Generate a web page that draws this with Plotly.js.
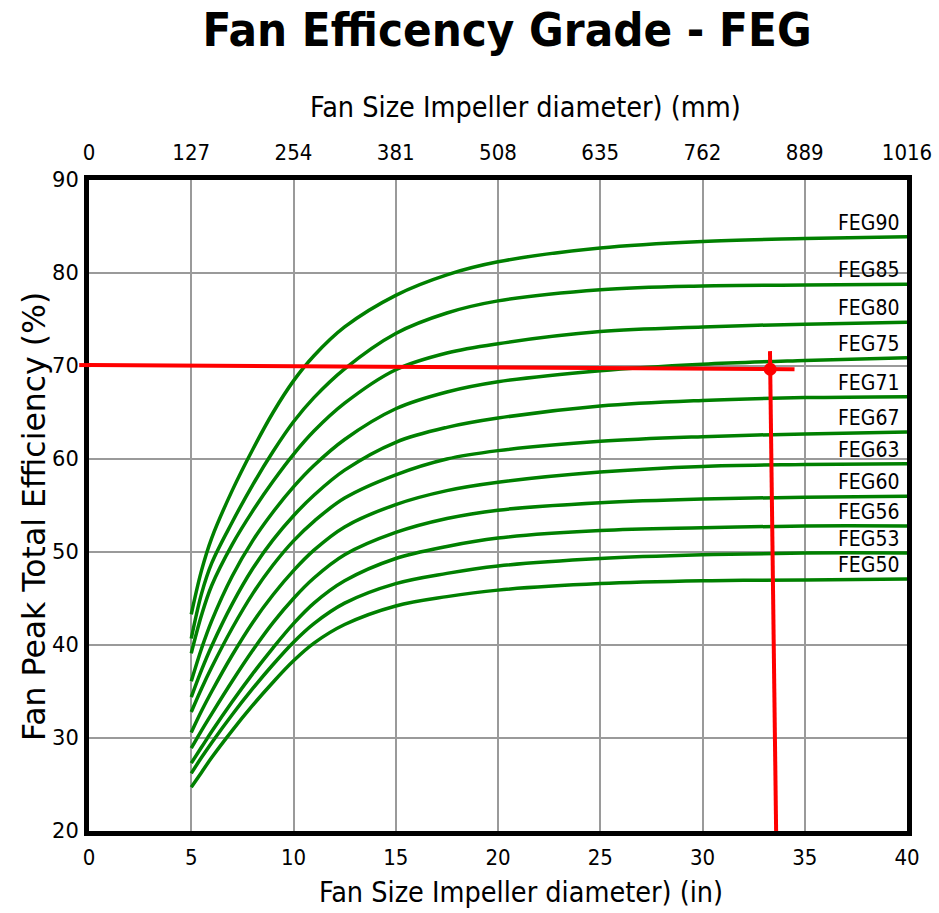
<!DOCTYPE html>
<html><head><meta charset="utf-8">
<script src="https://cdn.plot.ly/plotly-3.0.1.min.js"></script>
<style>html,body{margin:0;padding:0;background:#fff}</style>
</head><body>
<div id="chart" style="width:939px;height:913px"></div>
<script>
// ---- data ----
const diameterIn = [5, 5.5, 6, 7, 8, 9, 10, 11, 12.5, 15, 17.5, 20, 25, 30, 35, 40];
const gradeNames = ['FEG90','FEG85','FEG80','FEG75','FEG71','FEG67','FEG63','FEG60','FEG56','FEG53','FEG50'];
const feg90 = [43.3, 48.0, 51.5, 56.6, 61.0, 65.0, 68.4, 71.1, 74.2, 77.6, 79.8, 81.2, 82.7, 83.4, 83.7, 83.9];
const feg85 = [40.7, 45.5, 48.8, 53.2, 57.2, 60.8, 64.0, 66.6, 69.7, 73.5, 75.7, 77.0, 78.2, 78.6, 78.7, 78.8];
const feg80 = [39.1, 43.2, 46.4, 50.8, 54.4, 57.6, 60.5, 63.0, 66.0, 69.6, 71.4, 72.4, 73.7, 74.2, 74.5, 74.7];
const feg75 = [36.1, 39.6, 42.6, 47.4, 51.2, 54.3, 57.0, 59.3, 62.1, 65.4, 67.2, 68.3, 69.5, 70.2, 70.6, 70.9];
const feg71 = [34.4, 37.3, 39.9, 44.4, 48.2, 51.3, 53.9, 56.1, 58.8, 61.8, 63.4, 64.4, 65.7, 66.3, 66.6, 66.7];
const feg67 = [32.8, 35.3, 37.6, 41.8, 45.5, 48.6, 51.2, 53.3, 55.8, 58.3, 60.0, 60.9, 61.9, 62.4, 62.7, 62.9];
const feg63 = [30.6, 32.9, 35.0, 38.9, 42.4, 45.4, 48.0, 50.2, 52.7, 55.1, 56.6, 57.5, 58.6, 59.2, 59.4, 59.5];
const feg60 = [28.9, 30.8, 32.6, 36.1, 39.4, 42.4, 45.0, 47.2, 49.7, 52.1, 53.6, 54.5, 55.3, 55.7, 55.9, 56.0];
const feg56 = [27.3, 29.0, 30.7, 33.9, 36.9, 39.7, 42.3, 44.5, 46.9, 49.3, 50.6, 51.5, 52.3, 52.6, 52.8, 52.8];
const feg53 = [26.2, 27.9, 29.5, 32.5, 35.3, 37.9, 40.3, 42.3, 44.5, 46.6, 47.7, 48.5, 49.3, 49.7, 49.9, 49.9];
const feg50 = [24.7, 26.3, 27.9, 30.8, 33.5, 36.0, 38.3, 40.2, 42.2, 44.2, 45.2, 45.9, 46.6, 46.9, 47.0, 47.1];

const inchTicks = [0, 5, 10, 15, 20, 25, 30, 35, 40];
const mmTickText = ['0', '127', '254', '381', '508', '635', '762', '889', '1016'];
const effTicks = [20, 30, 40, 50, 60, 70, 80, 90];

// example reading (red guide lines)
const guideHX = [0, 34.5];
const guideHY = [70.1, 69.65];
const guideVX = [33.3, 33.6];
const guideVY = [71.6, 20];
const pointX = [33.31];
const pointY = [69.65];

// ---- build ----
const seriesList = [feg90, feg85, feg80, feg75, feg71, feg67, feg63, feg60, feg56, feg53, feg50];
const GREEN = '#008000', RED = '#ff0000';
const traces = seriesList.map((ys, i) => ({
  type: 'scatter', mode: 'lines', name: gradeNames[i],
  x: diameterIn, y: ys,
  line: {color: GREEN, width: 3.5, shape: 'spline', smoothing: 1},
  hoverinfo: 'skip'
}));
traces.push({type: 'scatter', mode: 'lines', x: guideHX, y: guideHY,
  line: {color: RED, width: 4}, hoverinfo: 'skip'});
traces.push({type: 'scatter', mode: 'lines', x: guideVX, y: guideVY,
  line: {color: RED, width: 4}, hoverinfo: 'skip'});
traces.push({type: 'scatter', mode: 'markers', x: pointX, y: pointY, xaxis: 'x2',
  marker: {color: RED, size: 13}, hoverinfo: 'skip'});

const COND = 'DejaVu Sans Condensed';
const annotations = seriesList.map((ys, i) => ({
  x: diameterIn[diameterIn.length - 1], y: ys[ys.length - 1],
  xref: 'x', yref: 'y', text: gradeNames[i], showarrow: false,
  xanchor: 'right', yanchor: 'bottom', xshift: -6, yshift: 0,
  font: {family: COND, size: 21, color: '#000'}
}));
annotations.push({
  text: 'Fan Size Impeller diameter) (in)', showarrow: false,
  xref: 'paper', yref: 'paper', x: 0.528, y: -0.094, xanchor: 'center', yanchor: 'middle',
  font: {family: COND, size: 28.5, color: '#000'}
});
annotations.push({
  text: 'Fan Size Impeller diameter) (mm)', showarrow: false,
  xref: 'paper', yref: 'paper', x: 0.534, y: 1.112, xanchor: 'center', yanchor: 'middle',
  font: {family: COND, size: 28.5, color: '#000'}
});
annotations.push({
  text: 'Fan Peak Total Efficiency (%)', showarrow: false, textangle: -90,
  xref: 'paper', yref: 'paper', x: -0.068, y: 0.483, xanchor: 'center', yanchor: 'middle',
  font: {family: 'DejaVu Sans', size: 31.5, color: '#000'}
});

const gridC = '#9a9a9a';
const layout = {
  width: 939, height: 913,
  margin: {l: 88.5, r: 31.5, t: 180, b: 81.5, autoexpand: false},
  paper_bgcolor: '#fff', plot_bgcolor: '#fff',
  showlegend: false,
  title: {
    text: '<b>Fan Efficency Grade - FEG</b>',
    font: {family: COND, size: 47, color: '#000'},
    x: 507 / 939, xref: 'container', xanchor: 'center',
    y: 1 - 30 / 913, yref: 'container', yanchor: 'middle'
  },
  xaxis: {
    range: [0, 40], tickvals: inchTicks, ticks: '',
    showgrid: true, gridcolor: gridC, gridwidth: 2, zeroline: false,
    showline: true, linecolor: '#000', linewidth: 5, mirror: true,
    tickfont: {family: COND, size: 22, color: '#000'},
    ticklabelstandoff: 3,
    automargin: false, fixedrange: true
  },
  xaxis2: {
    overlaying: 'x', side: 'top', range: [0, 40],
    tickvals: inchTicks, ticktext: mmTickText, ticks: '',
    showgrid: false, zeroline: false, showline: false,
    tickfont: {family: COND, size: 22, color: '#000'},
    ticklabelstandoff: 15,
    automargin: false, fixedrange: true
  },
  yaxis: {
    range: [20, 90], tickvals: effTicks, ticks: '',
    showgrid: true, gridcolor: gridC, gridwidth: 2, zeroline: false,
    showline: true, linecolor: '#000', linewidth: 5, mirror: true,
    tickfont: {family: 'DejaVu Sans', size: 21, color: '#000'},
    ticklabelstandoff: 1,
    automargin: false, fixedrange: true
  },
  shapes: [{
    type: 'line', xref: 'x domain', yref: 'y',
    x0: -0.012, x1: 0.002, y0: guideHY[0], y1: guideHY[0],
    line: {color: RED, width: 4}, layer: 'above'
  }],
  annotations: annotations
};

Plotly.newPlot('chart', traces, layout, {displayModeBar: false, staticPlot: true});
</script>
</body></html>
